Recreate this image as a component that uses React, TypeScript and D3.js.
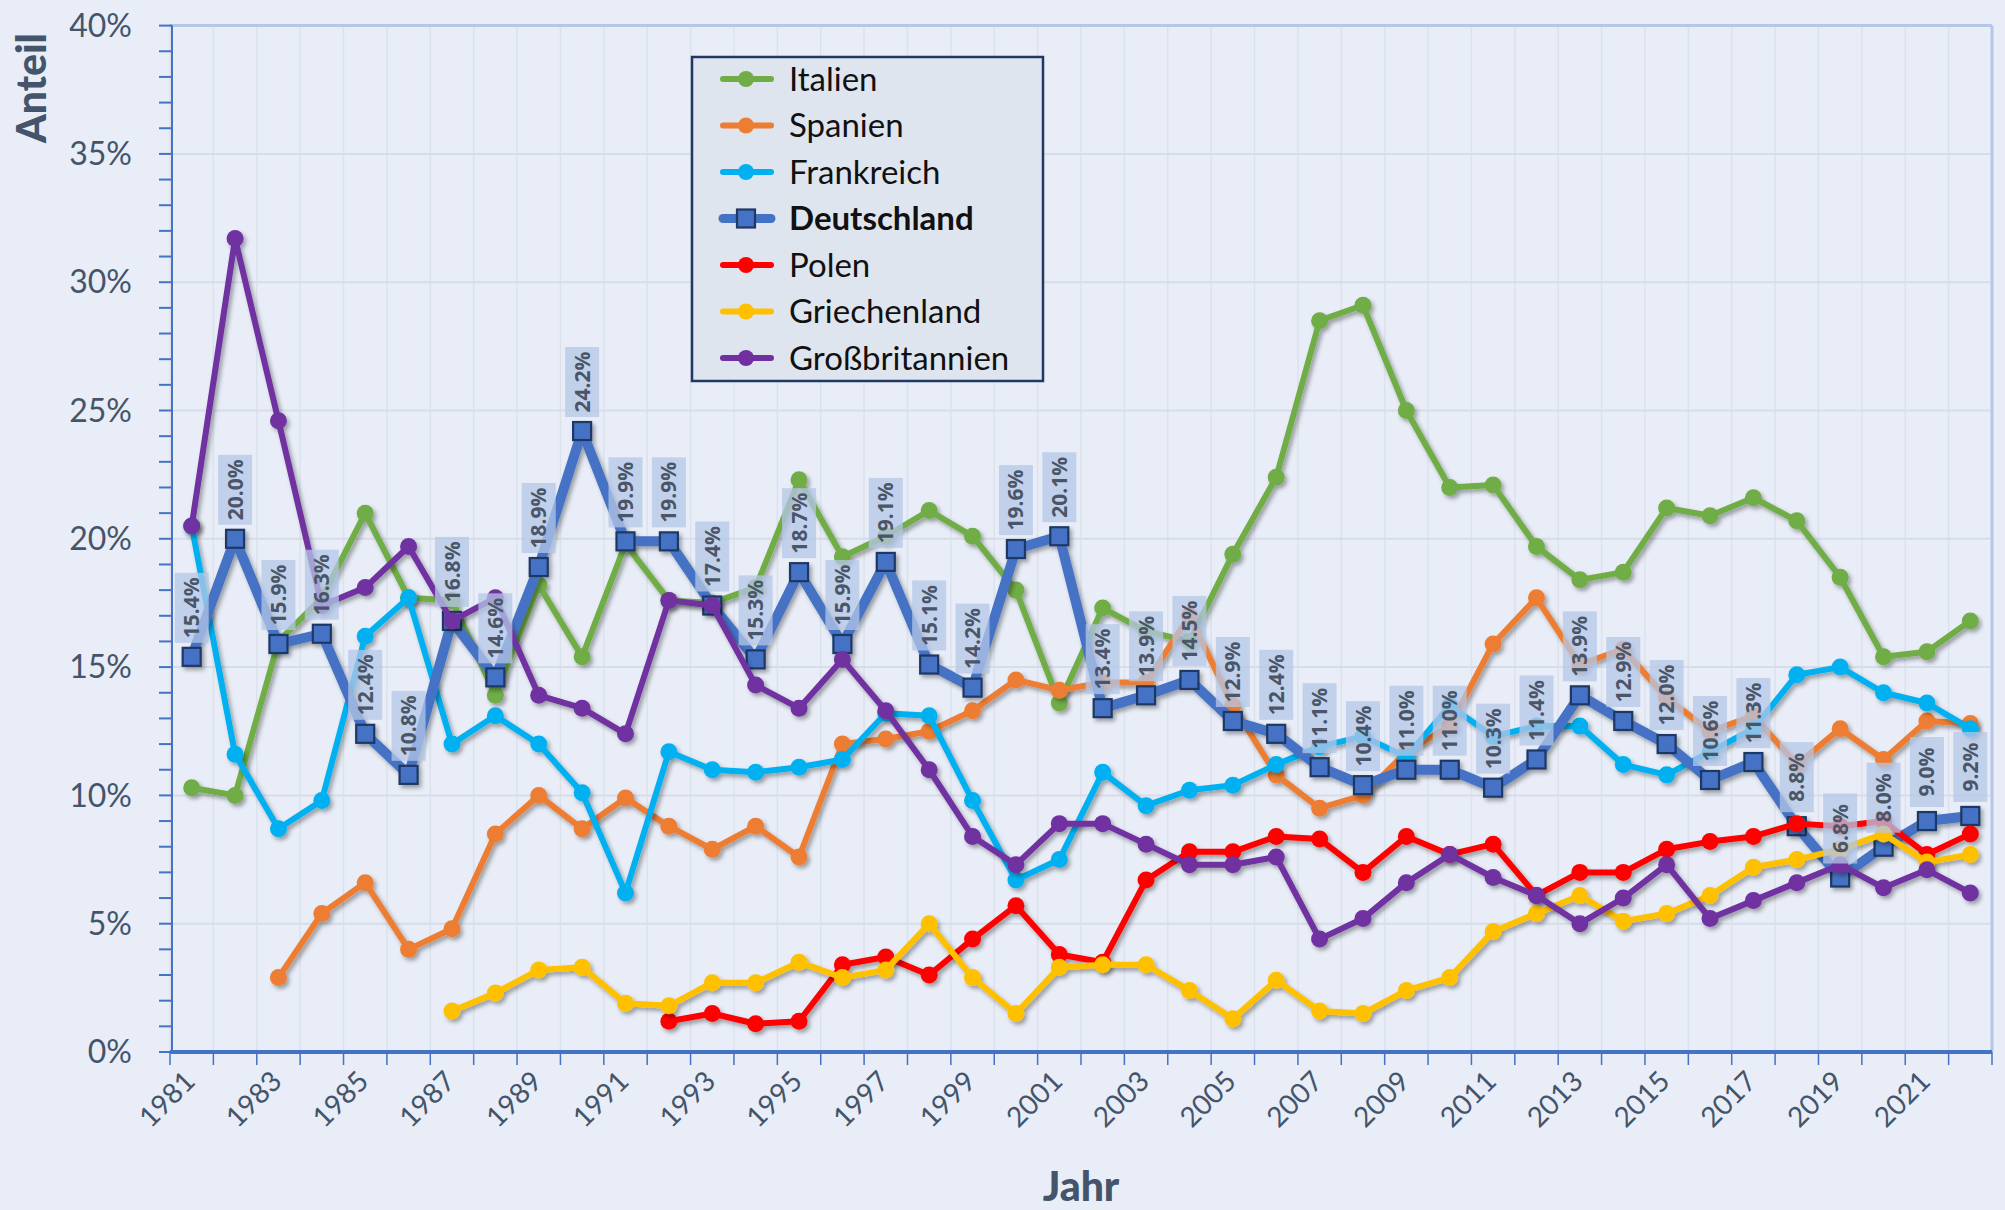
import React from 'react';
import { scaleBand, scaleLinear, line, range } from 'd3';

// Jahre und Anteile (in %) je Land
const years = range(1981, 2023);
const italien = [10.3, 10.0, 16.0, 17.7, 21.0, 17.7, 17.6, 13.9, 18.2, 15.4, 19.8, 17.6, 17.5, 18.1, 22.3, 19.3, 20.1, 21.1, 20.1, 18.0, 13.6, 17.3, 16.4, 16.0, 19.4, 22.4, 28.5, 29.1, 25.0, 22.0, 22.1, 19.7, 18.4, 18.7, 21.2, 20.9, 21.6, 20.7, 18.5, 15.4, 15.6, 16.8];
const spanien = [null, null, 2.9, 5.4, 6.6, 4.0, 4.8, 8.5, 10.0, 8.7, 9.9, 8.8, 7.9, 8.8, 7.6, 12.0, 12.2, 12.5, 13.3, 14.5, 14.1, 14.4, 14.4, 17.0, 13.5, 10.8, 9.5, 10.0, 11.7, 12.7, 15.9, 17.7, 15.1, 15.7, 13.8, 12.5, 13.1, 11.2, 12.6, 11.4, 12.9, 12.8];
const frankreich = [20.5, 11.6, 8.7, 9.8, 16.2, 17.7, 12.0, 13.1, 12.0, 10.1, 6.2, 11.7, 11.0, 10.9, 11.1, 11.4, 13.2, 13.1, 9.8, 6.7, 7.5, 10.9, 9.6, 10.2, 10.4, 11.2, 11.9, 12.3, 11.5, 13.5, 12.3, 12.7, 12.7, 11.2, 10.8, 11.7, 12.6, 14.7, 15.0, 14.0, 13.6, 12.6];
const deutschland = [15.4, 20.0, 15.9, 16.3, 12.4, 10.8, 16.8, 14.6, 18.9, 24.2, 19.9, 19.9, 17.4, 15.3, 18.7, 15.9, 19.1, 15.1, 14.2, 19.6, 20.1, 13.4, 13.9, 14.5, 12.9, 12.4, 11.1, 10.4, 11.0, 11.0, 10.3, 11.4, 13.9, 12.9, 12.0, 10.6, 11.3, 8.8, 6.8, 8.0, 9.0, 9.2];
const polen = [null, null, null, null, null, null, null, null, null, null, null, 1.2, 1.5, 1.1, 1.2, 3.4, 3.7, 3.0, 4.4, 5.7, 3.8, 3.5, 6.7, 7.8, 7.8, 8.4, 8.3, 7.0, 8.4, 7.7, 8.1, 6.1, 7.0, 7.0, 7.9, 8.2, 8.4, 8.9, 8.8, 9.0, 7.7, 8.5];
const griechenland = [null, null, null, null, null, null, 1.6, 2.3, 3.2, 3.3, 1.9, 1.8, 2.7, 2.7, 3.5, 2.9, 3.2, 5.0, 2.9, 1.5, 3.3, 3.4, 3.4, 2.4, 1.3, 2.8, 1.6, 1.5, 2.4, 2.9, 4.7, 5.4, 6.1, 5.1, 5.4, 6.1, 7.2, 7.5, 7.9, 8.5, 7.4, 7.7];
const grossbritannien = [20.5, 31.7, 24.6, 17.4, 18.1, 19.7, 16.8, 17.7, 13.9, 13.4, 12.4, 17.6, 17.4, 14.3, 13.4, 15.3, 13.3, 11.0, 8.4, 7.3, 8.9, 8.9, 8.1, 7.3, 7.3, 7.6, 4.4, 5.2, 6.6, 7.7, 6.8, 6.1, 5.0, 6.0, 7.3, 5.2, 5.9, 6.6, 7.3, 6.4, 7.1, 6.2];

const yTicks = [0, 5, 10, 15, 20, 25, 30, 35, 40];
const xTickYears = years.filter(y => (y - 1981) % 2 === 0);

const series = [
  { name: 'Italien', values: italien, color: '#70AD47' },
  { name: 'Spanien', values: spanien, color: '#ED7D31' },
  { name: 'Frankreich', values: frankreich, color: '#00B0F0' },
  { name: 'Deutschland', values: deutschland, color: '#4472C4', main: true },
  { name: 'Polen', values: polen, color: '#FF0000' },
  { name: 'Griechenland', values: griechenland, color: '#FFC000' },
  { name: 'Großbritannien', values: grossbritannien, color: '#7030A0' },
];

export default function App() {
  const width = 2005;
  const height = 1210;
  const margin = { top: 25.6, right: 13, bottom: 158, left: 170 };
  const plotRight = width - margin.right;
  const plotBottom = height - margin.bottom;

  const x = scaleBand<number>().domain(years).range([margin.left, plotRight]).padding(0);
  const cx = (yr: number) => (x(yr) as number) + x.bandwidth() / 2;
  const y = scaleLinear().domain([0, 40]).range([plotBottom, margin.top]);

  const lineGen = line<number | null>()
    .defined(d => d != null)
    .x((_, i) => cx(years[i]))
    .y(d => y(d as number));

  const textCol = '#44546A';
  const font = 'Lato, "Open Sans", sans-serif';
  const boundaries = range(0, years.length + 1).map(i => margin.left + i * x.bandwidth());
  const minorTicks = range(0, 41);

  return (
    <svg width={width} height={height} style={{ position: 'absolute', left: 0, top: 0 }}>
      <defs>
        <filter id="shadow" x="-5%" y="-5%" width="110%" height="110%">
          <feDropShadow dx="2.5" dy="3" stdDeviation="2" floodColor="#000" floodOpacity="0.35" />
        </filter>
      </defs>
      <rect x={0} y={0} width={width} height={height} fill="#E8EDF7" />

      {/* Gitter */}
      {boundaries.map((bx, i) => (
        <line key={'vg' + i} x1={bx} x2={bx} y1={margin.top} y2={plotBottom} stroke="#DCE2EC" strokeWidth={1.5} />
      ))}
      {yTicks.map(t => (
        <line key={'hg' + t} x1={margin.left} x2={plotRight} y1={y(t)} y2={y(t)} stroke="#D7DDE8" strokeWidth={2} />
      ))}
      <line x1={margin.left} x2={plotRight} y1={margin.top} y2={margin.top} stroke="#B4C7E7" strokeWidth={3} />
      <line x1={plotRight} x2={plotRight} y1={margin.top} y2={plotBottom} stroke="#B4C7E7" strokeWidth={3} />

      {/* y-Achse */}
      <line x1={172} x2={172} y1={margin.top} y2={plotBottom} stroke="#4472C4" strokeWidth={2} />
      {minorTicks.map(t => (
        <line key={'yt' + t} x1={159} x2={172} y1={y(t)} y2={y(t)} stroke="#4472C4" strokeWidth={2} />
      ))}
      {yTicks.map(t => (
        <text key={'yl' + t} x={132} y={y(t)} dy="0.35em" textAnchor="end" fontFamily={font} fontSize={32} fill={textCol}>
          {t}%
        </text>
      ))}
      <text transform={`translate(46,${88}) rotate(-90)`} textAnchor="middle" fontFamily={font} fontSize={41} fontWeight="900" fill={textCol}>
        Anteil
      </text>

      {/* x-Achse */}
      <line x1={margin.left} x2={plotRight} y1={plotBottom} y2={plotBottom} stroke="#4472C4" strokeWidth={4} />
      {boundaries.map((bx, i) => (
        <line key={'xt' + i} x1={bx} x2={bx} y1={plotBottom} y2={plotBottom + 13} stroke="#4472C4" strokeWidth={1.5} />
      ))}
      {xTickYears.map(yr => (
        <text key={'xl' + yr} transform={`translate(${cx(yr) - 2},${plotBottom + 24}) rotate(-45)`} dy="0.35em" textAnchor="end" fontFamily={font} fontSize={28} fill={textCol}>
          {yr}
        </text>
      ))}
      <text x={(margin.left + plotRight) / 2} y={1201} textAnchor="middle" fontFamily={font} fontSize={41} fontWeight="900" fill={textCol}>
        Jahr
      </text>

      {/* Linien */}
      {series.map(s => (
        <g key={s.name} filter="url(#shadow)">
          <path d={lineGen(s.values) || ''} fill="none" stroke={s.color} strokeWidth={s.main ? 10 : 6} strokeLinejoin="round" />
          {s.values.map((v, i) =>
            v == null ? null : s.main ? (
              <rect key={i} x={cx(years[i]) - 9} y={y(v) - 9} width={18} height={18} fill="#4472C4" stroke="#1F3864" strokeWidth={2.2} />
            ) : (
              <circle key={i} cx={cx(years[i])} cy={y(v)} r={8.5} fill={s.color} />
            )
          )}
        </g>
      ))}

      {/* Datenbeschriftungen Deutschland */}
      {deutschland.map((v, i) => {
        const px = cx(years[i]);
        const bottom = y(v) - 14;
        return (
          <g key={'dl' + i}>
            <rect x={px - 17} y={bottom - 70} width={34} height={70} fill="#B4C7E7" opacity={0.75} />
            <text transform={`translate(${px},${bottom - 35}) rotate(-90)`} dy="0.36em" textAnchor="middle" fontFamily='"Open Sans", sans-serif' fontWeight="bold" fontSize={21} fill="#4A5568">
              {v.toFixed(1)}%
            </text>
          </g>
        );
      })}

      {/* Legende */}
      <g>
        <rect x={692} y={57} width={351} height={324} fill="#DFE5EE" stroke="#1F3864" strokeWidth={2.5} />
        {series.map((s, i) => {
          const ly = 79 + i * 46.5;
          return (
            <g key={'lg' + s.name}>
              <line x1={723} x2={771} y1={ly} y2={ly} stroke={s.color} strokeWidth={s.main ? 9 : 6} strokeLinecap="round" />
              {s.main ? (
                <rect x={737} y={ly - 9} width={18} height={18} fill="#4472C4" stroke="#1F3864" strokeWidth={2.2} />
              ) : (
                <circle cx={746} cy={ly} r={8} fill={s.color} />
              )}
              <text x={789} y={ly} dy="0.35em" fontFamily={font} fontSize={33} fontWeight={s.main ? 'bold' : 'normal'} fill="#111">
                {s.name}
              </text>
            </g>
          );
        })}
      </g>
    </svg>
  );
}
